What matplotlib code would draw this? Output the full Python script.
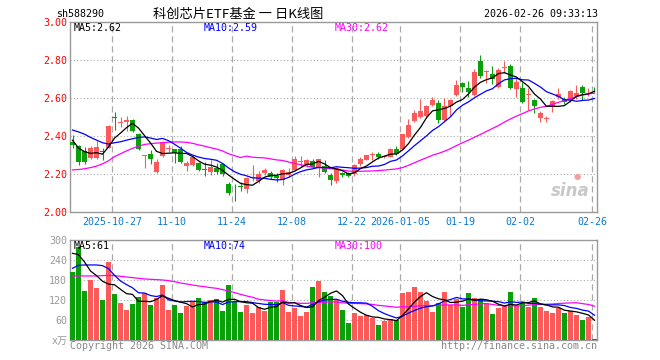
import numpy as np
import pandas as pd
import matplotlib
matplotlib.use('Agg')
import matplotlib.pyplot as plt

# ---------------- data ----------------
opens = [2.368, 2.346, 2.319, 2.281, 2.281, 2.318, 2.337, 2.499, 2.466, 2.474,
         2.483, 2.407, 2.295, 2.302, 2.211, 2.293, 2.332, 2.328, 2.330, 2.240,
         2.246, 2.258, 2.226, 2.211, 2.232, 2.253, 2.146, 2.111, 2.134, 2.118,
         2.179, 2.160, 2.203, 2.206, 2.190, 2.168, 2.195, 2.217, 2.262, 2.247,
         2.265, 2.235, 2.242, 2.193, 2.163, 2.205, 2.205, 2.197, 2.251, 2.274,
         2.298, 2.305, 2.288, 2.289, 2.330, 2.328, 2.395, 2.479, 2.500, 2.504,
         2.561, 2.574, 2.485, 2.556, 2.614, 2.675, 2.651, 2.613, 2.793, 2.734,
         2.727, 2.658, 2.755, 2.767, 2.647, 2.653, 2.614, 2.588, 2.492, 2.490,
         2.556, 2.602, 2.592, 2.588, 2.607, 2.658, 2.638, 2.648]
highs = [2.404, 2.350, 2.342, 2.346, 2.374, 2.334, 2.456, 2.526, 2.497, 2.505,
         2.488, 2.412, 2.297, 2.325, 2.277, 2.372, 2.351, 2.332, 2.346, 2.268,
         2.295, 2.263, 2.261, 2.270, 2.258, 2.256, 2.158, 2.146, 2.158, 2.184,
         2.246, 2.214, 2.228, 2.212, 2.202, 2.227, 2.232, 2.292, 2.292, 2.276,
         2.276, 2.280, 2.270, 2.205, 2.237, 2.211, 2.211, 2.251, 2.286, 2.300,
         2.312, 2.316, 2.300, 2.337, 2.346, 2.409, 2.488, 2.535, 2.592, 2.562,
         2.602, 2.588, 2.600, 2.592, 2.693, 2.681, 2.690, 2.751, 2.825, 2.744,
         2.767, 2.756, 2.791, 2.776, 2.709, 2.684, 2.649, 2.591, 2.532, 2.504,
         2.588, 2.653, 2.602, 2.641, 2.667, 2.667, 2.653, 2.658]
lows = [2.334, 2.246, 2.251, 2.277, 2.277, 2.272, 2.333, 2.430, 2.444, 2.426,
        2.421, 2.325, 2.228, 2.251, 2.204, 2.290, 2.312, 2.258, 2.258, 2.216,
        2.240, 2.216, 2.188, 2.193, 2.200, 2.188, 2.088, 2.058, 2.111, 2.097,
        2.163, 2.150, 2.193, 2.170, 2.156, 2.138, 2.184, 2.212, 2.234, 2.237,
        2.230, 2.181, 2.205, 2.140, 2.149, 2.184, 2.181, 2.188, 2.240, 2.270,
        2.270, 2.279, 2.282, 2.286, 2.298, 2.325, 2.389, 2.474, 2.495, 2.497,
        2.556, 2.468, 2.478, 2.504, 2.609, 2.632, 2.606, 2.607, 2.705, 2.677,
        2.670, 2.649, 2.732, 2.644, 2.605, 2.570, 2.535, 2.518, 2.474, 2.470,
        2.526, 2.592, 2.567, 2.579, 2.592, 2.588, 2.609, 2.632]
closes = [2.351, 2.263, 2.263, 2.337, 2.339, 2.312, 2.453, 2.495, 2.470, 2.482,
          2.426, 2.328, 2.297, 2.276, 2.262, 2.368, 2.336, 2.307, 2.263, 2.258,
          2.289, 2.221, 2.220, 2.237, 2.209, 2.200, 2.100, 2.107, 2.130, 2.176,
          2.183, 2.201, 2.217, 2.180, 2.177, 2.222, 2.210, 2.277, 2.265, 2.270,
          2.235, 2.277, 2.211, 2.167, 2.232, 2.193, 2.188, 2.246, 2.276, 2.300,
          2.302, 2.288, 2.295, 2.330, 2.304, 2.407, 2.456, 2.521, 2.530, 2.558,
          2.588, 2.485, 2.557, 2.588, 2.667, 2.655, 2.632, 2.736, 2.715, 2.738,
          2.700, 2.746, 2.760, 2.653, 2.684, 2.579, 2.621, 2.558, 2.521, 2.493,
          2.582, 2.618, 2.579, 2.637, 2.623, 2.623, 2.641, 2.644]
volumes = [206, 279, 149, 181, 156, 121, 236, 139, 113, 91,
           110, 130, 141, 106, 126, 166, 91, 106, 83, 104,
           116, 126, 114, 121, 123, 89, 166, 116, 86, 106,
           83, 101, 89, 116, 116, 151, 86, 96, 73, 86,
           161, 179, 146, 133, 121, 91, 53, 83, 73, 76,
           66, 46, 59, 63, 61, 143, 146, 161, 146, 118,
           86, 111, 146, 106, 123, 101, 143, 128, 123, 113,
           79, 98, 103, 146, 103, 113, 101, 128, 101, 88,
           83, 96, 83, 89, 76, 61, 71, 4]

# moving-average values for the first days (history before the window)
ma5_head = [2.376, 2.335, 2.316, 2.307]
ma10_head = [2.430, 2.420, 2.408, 2.391, 2.377, 2.363, 2.356, 2.363, 2.368]
ma30_head = [2.220, 2.222, 2.226, 2.232, 2.240, 2.252, 2.268, 2.290, 2.305, 2.320,
             2.333, 2.345, 2.354, 2.358, 2.361, 2.363, 2.366, 2.367, 2.367, 2.365,
             2.360, 2.352, 2.345, 2.337, 2.330, 2.320, 2.305, 2.295, 2.285]
vma5_head = [261, 257, 235, 208]
vma10_head = [216, 225, 226, 226, 226, 224, 215, 195, 178]
vma30_head = [193, 193, 193, 193, 193, 194, 195, 194, 192, 190,
              188, 186, 184, 183, 182, 181, 179, 176, 172, 169,
              166, 163, 161, 158, 156, 152, 148, 143, 138]

tick_idx = [7, 17, 27, 37, 47, 55, 65, 75, 87]
tick_labels = ["2025-10-27", "11-10", "11-24", "12-08", "12-22",
               "2026-01-05", "01-19", "02-02", "02-26"]
price_ticks = [2.00, 2.20, 2.40, 2.60, 2.80, 3.00]
vol_ticks = [0, 60, 120, 180, 240, 300]
vol_tick_labels = ["x万", "60", "120", "180", "240", "300"]

title_code = "sh588290"
title_name = "科创芯片ETF基金 一 日K线图"
title_time = "2026-02-26 09:33:13"
ma_labels = ["MA5:2.62", "MA10:2.59", "MA30:2.62"]
vma_labels = ["MA5:61", "MA10:74", "MA30:100"]

# ---------------- helpers ----------------
def ma(values, n, head):
    s = pd.Series(values, dtype=float).rolling(n).mean().to_numpy()
    s[:len(head)] = head
    return s

ma5 = ma(closes, 5, ma5_head)
ma10 = ma(closes, 10, ma10_head)
ma30 = ma(closes, 30, ma30_head)
vma5 = ma(volumes, 5, vma5_head)
vma10 = ma(volumes, 10, vma10_head)
vma30 = ma(volumes, 30, vma30_head)

RED = "#fa5a5a"
GREEN = "#0aa00a"
GRID = "#aaaaaa"
SPINE = "#999999"
MONO = "DejaVu Sans Mono"
FS = 7.2

W, H = 660, 360
fig = plt.figure(figsize=(6.6, 3.6), dpi=100)
fig.patch.set_facecolor("white")

def fx(px):
    return px / W

def fy(py):
    return 1 - py / H

ax = fig.add_axes([fx(70), fy(211.7), (597 - 70) / W, 190 / H])
axv = fig.add_axes([fx(70), fy(340.3), (597 - 70) / W, 100 / H])

n = len(closes)
x = np.arange(n)
o = np.array(opens); c = np.array(closes); h = np.array(highs); l = np.array(lows)
up = c >= o
cols = np.where(up, RED, GREEN)

for a in (ax, axv):
    a.set_xlim(-0.4167, n - 1 + 0.4167)
    for s in a.spines.values():
        s.set_color(SPINE)
        s.set_linewidth(1.0)
    gx = [i - 0.37 for i in tick_idx]
    for g in gx:
        a.axvline(g, color=GRID, lw=0.9, ls=(0, (5, 3)), zorder=0)
    a.tick_params(axis='both', length=0)

# price grid
for p in price_ticks[1:-1]:
    ax.axhline(p, color=GRID, lw=0.8, ls=(0, (1, 2)), zorder=0)
ax.set_ylim(2.0, 3.0)
ax.set_yticks(price_ticks)
ax.set_yticklabels([f"{p:.2f}" for p in price_ticks], color="#ff0000",
                   fontfamily=MONO, fontsize=FS)
ax.set_xticks([i - 0.37 for i in tick_idx])
ax.set_xticklabels(tick_labels, color="#0a7ad0", fontfamily=MONO, fontsize=FS)
ax.tick_params(axis='x', pad=4)
ax.tick_params(axis='y', pad=2)

# candles
bw = 0.82
ax.vlines(x, l, h, colors=cols, lw=0.8, zorder=3)
body_h = np.maximum(np.abs(c - o), 0.004)
ax.bar(x, body_h, bottom=np.minimum(o, c), width=bw, color=cols,
       edgecolor=cols, linewidth=0, zorder=4)

ax.plot(x, ma30, color="#ff00ff", lw=0.9, zorder=5)
ax.plot(x, ma10, color="#0000ff", lw=0.9, zorder=5)
ax.plot(x, ma5, color="#000000", lw=0.9, zorder=6)

# volume
for v in vol_ticks[1:-1]:
    axv.axhline(v, color=GRID, lw=0.8, ls=(0, (1, 2)), zorder=0)
axv.set_ylim(0, 300)
axv.set_yticks(vol_ticks)
axv.set_yticklabels(vol_tick_labels, color="#999999", fontsize=FS,
                    fontfamily=[MONO, "Noto Sans CJK SC"])
axv.set_xticks([])
axv.tick_params(axis='y', pad=2)
axv.bar(x, volumes, width=bw, color=cols, linewidth=0, zorder=3)
axv.plot(x, vma30, color="#ff00ff", lw=0.9, zorder=5)
axv.plot(x, vma10, color="#0000ff", lw=0.9, zorder=5)
axv.plot(x, vma5, color="#000000", lw=0.9, zorder=6)

# texts
fig.text(fx(56), fy(14), title_code, fontfamily=MONO, fontsize=FS,
         ha='left', va='center', color='black')
fig.text(fx(238), fy(14), title_name, fontfamily=["Noto Sans CJK SC", "DejaVu Sans"],
         fontsize=9.5, ha='center', va='center', color='black')
fig.text(fx(598), fy(14), title_time, fontfamily=MONO, fontsize=FS,
         ha='right', va='center', color='black')

lab_cols = ["#000000", "#0000ff", "#ff00ff"]
lab_x = [74, 204, 335]
for t, cc, xx in zip(ma_labels, lab_cols, lab_x):
    fig.text(fx(xx), fy(28), t, fontfamily=MONO, fontsize=FS, color=cc,
             ha='left', va='center')
for t, cc, xx in zip(vma_labels, lab_cols, lab_x):
    fig.text(fx(xx), fy(246), t, fontfamily=MONO, fontsize=FS, color=cc,
             ha='left', va='center')

fig.text(fx(70), fy(346), "Copyright 2026 SINA.COM", fontfamily=MONO,
         fontsize=FS, color="#888888", ha='left', va='center')
fig.text(fx(597), fy(346), "http://finance.sina.com.cn", fontfamily=MONO,
         fontsize=FS, color="#888888", ha='right', va='center')

# sina watermark
ax.text(0.985, 0.06, "sina", transform=ax.transAxes, ha='right', va='bottom',
        fontsize=12, fontweight='bold', fontstyle='italic', color="#c8c8c8",
        zorder=1)
ax.text(0.962, 0.16, "●", transform=ax.transAxes, ha='center', va='bottom',
        fontsize=6, color="#f0a0a0", zorder=1)

fig.savefig("out.png", dpi=100, facecolor="white")
